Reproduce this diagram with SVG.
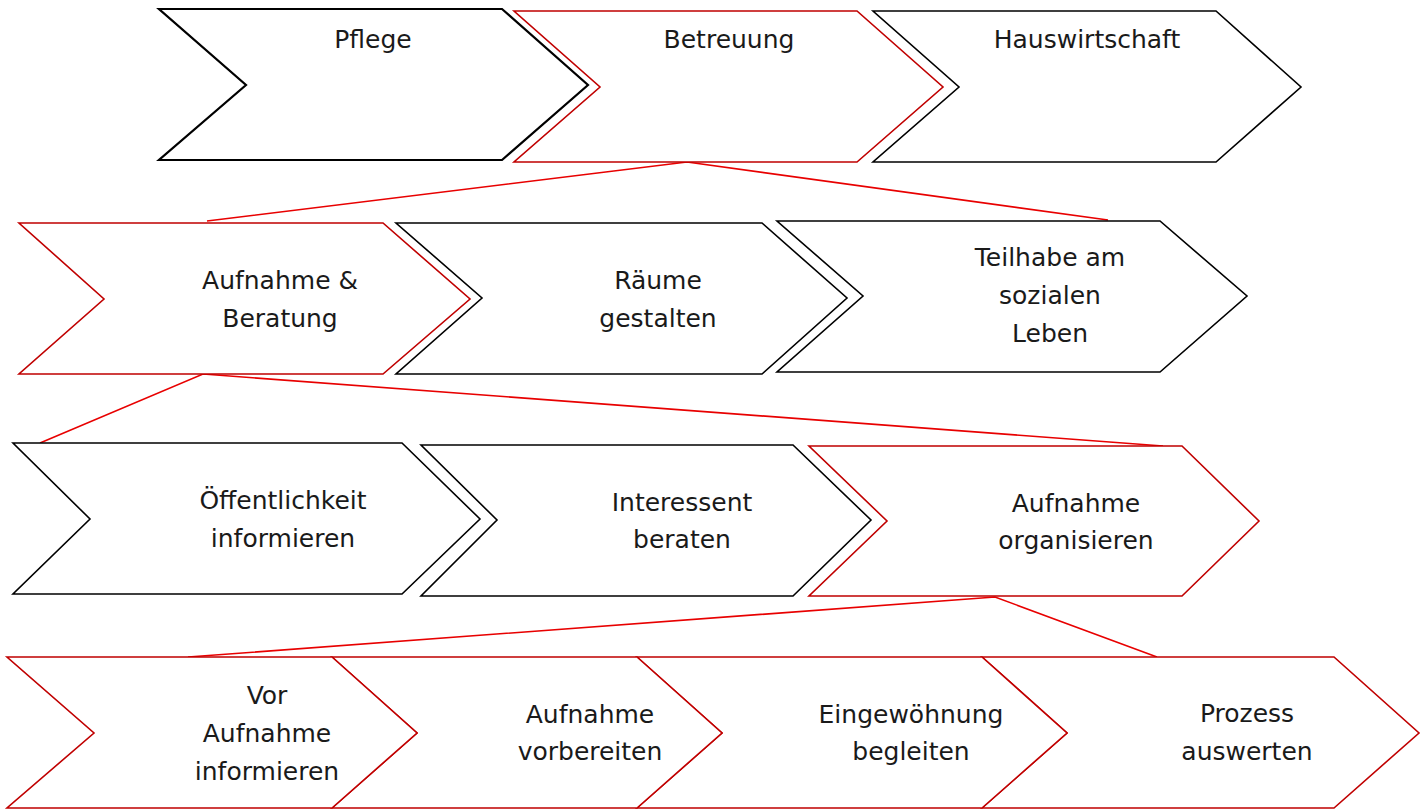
<svg xmlns="http://www.w3.org/2000/svg" width="1428" height="809" viewBox="0 0 1428 809">
<style>
.blk{fill:#fff;stroke:#000;stroke-width:1.6;stroke-linejoin:miter}
.blk2{fill:#fff;stroke:#000;stroke-width:2.2;stroke-linejoin:miter}
.red{fill:#fff;stroke:#c00000;stroke-width:1.6;stroke-linejoin:miter}
.con{fill:none;stroke:#e80000;stroke-width:1.6}
text{font-family:"DejaVu Sans","Liberation Sans",sans-serif;font-size:25px;fill:#1a1a1a;text-anchor:middle}
</style>
<rect width="1428" height="809" fill="#fff"/>
<g id="connectors">
<polyline class="con" points="207,221 687,162 1108,220"/>
<polyline class="con" points="40,443 203,374 1163,446"/>
<polyline class="con" points="188,657 995,597 1157,657"/>
</g>
<g id="pflege">
<polygon class="blk2" points="159,9 502,9 588,85 502,160 159,160 246,85"/>
<text x="373" y="48">Pflege</text>
</g>
<g id="betreuung">
<polygon class="red" points="514,11 857,11 943,87 857,162 514,162 600,87"/>
<text x="729" y="48">Betreuung</text>
</g>
<g id="hauswirtschaft">
<polygon class="blk" points="873,11 1216,11 1301,87 1216,162 873,162 959,87"/>
<text x="1087" y="48">Hauswirtschaft</text>
</g>
<g id="aufnahme-beratung">
<polygon class="red" points="19,223 383,223 470,299 383,374 19,374 104,299"/>
<text x="280" y="289">Aufnahme &amp;</text>
<text x="280" y="327">Beratung</text>
</g>
<g id="raeume-gestalten">
<polygon class="blk" points="396,223 762,223 847,298 762,374 396,374 482,298"/>
<text x="658" y="289">Räume</text>
<text x="658" y="327">gestalten</text>
</g>
<g id="teilhabe">
<polygon class="blk" points="777,221 1160,221 1247,296 1160,372 777,372 863,296"/>
<text x="1050" y="266">Teilhabe am</text>
<text x="1050" y="304">sozialen</text>
<text x="1050" y="342">Leben</text>
</g>
<g id="oeffentlichkeit">
<polygon class="blk" points="13,443 402,443 480,519 402,594 13,594 90,519"/>
<text x="283" y="509">Öffentlichkeit</text>
<text x="283" y="547">informieren</text>
</g>
<g id="interessent">
<polygon class="blk" points="421,445 793,445 871,520 793,596 421,596 497,520"/>
<text x="682" y="511">Interessent</text>
<text x="682" y="548">beraten</text>
</g>
<g id="aufnahme-organisieren">
<polygon class="red" points="809,446 1182,446 1259,521 1182,596 809,596 887,521"/>
<text x="1076" y="512">Aufnahme</text>
<text x="1076" y="549">organisieren</text>
</g>
<g id="prozess-auswerten">
<polygon class="red" points="982,657 1334,657 1419,733 1334,808 982,808 1067,733"/>
<text x="1247" y="722">Prozess</text>
<text x="1247" y="760">auswerten</text>
</g>
<g id="eingewoehnung">
<polygon class="red" points="637,657 982,657 1067,733 982,808 637,808 722,733"/>
<text x="911" y="723">Eingewöhnung</text>
<text x="911" y="760">begleiten</text>
</g>
<g id="aufnahme-vorbereiten">
<polygon class="red" points="332,657 637,657 722,733 637,808 332,808 417,733"/>
<text x="590" y="723">Aufnahme</text>
<text x="590" y="760">vorbereiten</text>
</g>
<g id="vor-aufnahme">
<polygon class="red" points="7,657 332,657 417,733 332,808 7,808 94,733"/>
<text x="267" y="704">Vor</text>
<text x="267" y="742">Aufnahme</text>
<text x="267" y="780">informieren</text>
</g>
</svg>
